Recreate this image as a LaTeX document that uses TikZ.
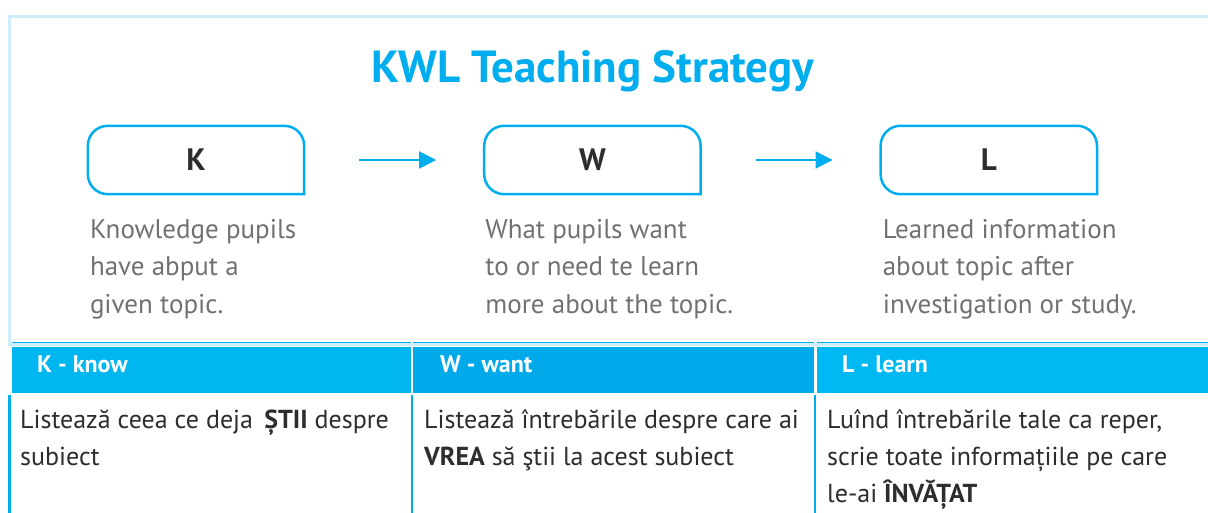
\documentclass[tikz,border=0pt]{standalone}
\usepackage{fontspec}
\setmainfont{PT Sans}
\usetikzlibrary{positioning}
\usetikzlibrary{arrows.meta}
\definecolor{kwlcyan}{HTML}{00AEEF}
\definecolor{framecol}{HTML}{CCEDFB}
\definecolor{headk}{HTML}{00B6F0}
\definecolor{headw}{HTML}{00A9EA}
\definecolor{headl}{HTML}{00B9F2}
\definecolor{descgray}{HTML}{717174}
\definecolor{bodygray}{HTML}{2E2C2D}
\tikzset{title/.style={anchor=base, inner sep=0pt, text=kwlcyan,
   font=\fontsize{45}{54}\selectfont\bfseries}}
\tikzset{kwlbox/.style={minimum width=216pt, minimum height=68pt, inner sep=0pt,
   text=bodygray, font=\fontsize{31}{36}\selectfont\bfseries}}
\tikzset{boxline/.style={draw=kwlcyan, line width=2.5pt}}
\tikzset{arr/.style={draw=kwlcyan, line width=2pt, -{Triangle[length=17pt,width=17pt]}}}
\tikzset{desc/.style={anchor=base west, align=left, inner sep=0pt, text=descgray,
   font=\fontsize{27}{37.5}\selectfont}}
\tikzset{headcell/.style={anchor=north west, minimum height=46pt, inner sep=0pt}}
\tikzset{headtext/.style={anchor=base west, inner sep=0pt, text=white,
   font=\fontsize{24}{28}\selectfont\bfseries}}
\tikzset{bodytext/.style={anchor=base west, align=left, inner sep=0pt, text=bodygray,
   font=\fontsize{26}{37}\selectfont}}
\tikzset{topline/.style={draw=kwlcyan, line width=1.3pt}}
\tikzset{rule/.style={draw=kwlcyan, line width=2.2pt}}
\newcommand{\kwlradius}{20pt}
\newcommand{\boxoutline}[1]{%
  \draw[boxline] (#1.south east) -- ([yshift=-\kwlradius]#1.north east)
    arc[start angle=0, end angle=90, radius=\kwlradius] -- ([xshift=\kwlradius]#1.north west)
    arc[start angle=90, end angle=180, radius=\kwlradius] -- ([yshift=\kwlradius]#1.south west)
    arc[start angle=180, end angle=270, radius=\kwlradius] -- cycle;}

\begin{document}
\begin{tikzpicture}

    \useasboundingbox (0,0) rectangle (1208pt,513pt);

    % light frame round the upper part
    \draw[framecol, line width=3pt] (9pt,168pt) rectangle (1230pt,496pt);

    \node[title] (title) at (593pt,430pt) {KWL Teaching Strategy};

    \node[kwlbox] (k) at (196pt,353pt) {K};
    \node[kwlbox, right=180pt of k] (w) {W};
    \node[kwlbox, right=180pt of w] (l) {L};
    \boxoutline{k}
    \boxoutline{w}
    \boxoutline{l}

    \draw[arr] ([xshift=55pt]k.east) -- ([xshift=-48pt]w.west);
    \draw[arr] ([xshift=55pt]w.east) -- ([xshift=-48pt]l.west);

    % base of a node with lines is its last line
    \node[desc] (kd) at ([xshift=2pt,yshift=-119pt]k.south west)
      {Knowledge pupils\\have abput a\\given topic.};
    \node[desc] (wd) at ([xshift=1pt,yshift=-119pt]w.south west)
      {What pupils want\\to or need te learn\\more about the topic.};
    \node[desc] (ld) at ([xshift=2pt,yshift=-119pt]l.south west)
      {Learned information\\about topic after\\investigation or study.};

    % table
    \node[headcell, fill=headk, minimum width=398.5pt] (hk) at (12pt,166pt) {};
    \node[headcell, fill=headw, minimum width=400.5pt] (hw) at (413pt,166pt) {};
    \node[headcell, fill=headl, minimum width=400pt] (hl) at (816.5pt,166pt) {};

    \draw[topline] ([yshift=4.3pt]hk.north west) -- ([yshift=4.3pt]hk.north east);
    \draw[topline] ([yshift=4.3pt]hw.north west) -- ([yshift=4.3pt]hw.north east);
    \draw[topline] ([yshift=4.3pt]hl.north west) -- ([yshift=4.3pt]hl.north east);

    \node[headtext] (hkt) at ([xshift=25pt,yshift=-2pt]hk.west) {K - know};
    \node[headtext] (hwt) at ([xshift=27pt,yshift=-2pt]hw.west) {W - want};
    \node[headtext] (hlt) at ([xshift=25.5pt,yshift=-2pt]hl.west) {L - learn};

    \draw[rule] ([xshift=-2.5pt,yshift=-1.5pt]hk.south west) -- ++(0,-130pt);
    \draw[rule] ([xshift=-1pt,yshift=-1.5pt]hw.south west) -- ++(0,-130pt);
    \draw[rule] ([xshift=-1.5pt,yshift=-1.5pt]hl.south west) -- ++(0,-130pt);

    \node[bodytext] (bk) at ([xshift=8pt,yshift=-72pt]hk.south west)
      {Listează ceea ce deja \,\textbf{ȘTII} despre\\subiect};
    \node[bodytext] (bw) at ([xshift=11pt,yshift=-72pt]hw.south west)
      {Listează întrebările despre care ai\\\textbf{VREA} să ştii la acest subiect};
    \node[bodytext] (bl) at ([xshift=10.5pt,yshift=-109pt]hl.south west)
      {Luînd întrebările tale ca reper,\\scrie toate informațiile pe care\\le-ai \textbf{ÎNVĂȚAT}};

  \end{tikzpicture}
\end{document}
